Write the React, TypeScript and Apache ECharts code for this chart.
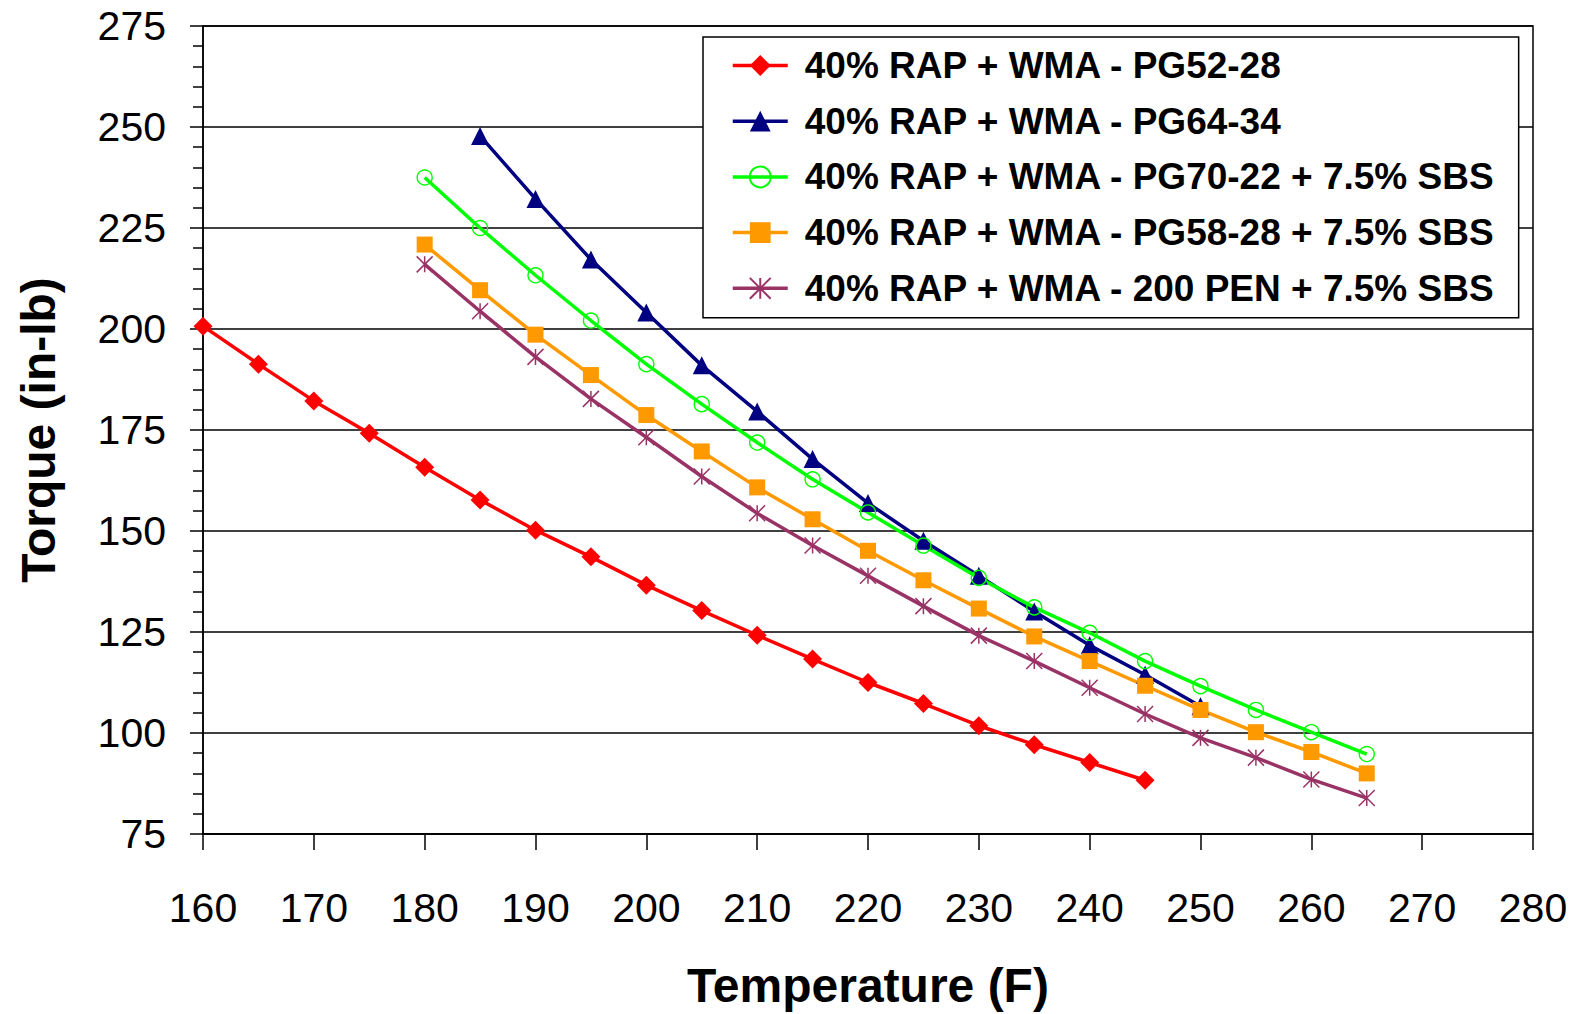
import React, { useEffect, useRef } from "react";
import * as echarts from "echarts";

const xTicks = [160, 170, 180, 190, 200, 210, 220, 230, 240, 250, 260, 270, 280];
const yTicks = [75, 100, 125, 150, 175, 200, 225, 250, 275];

const seriesNames = [
  "40% RAP + WMA - PG52-28",
  "40% RAP + WMA - PG64-34",
  "40% RAP + WMA - PG70-22 + 7.5% SBS",
  "40% RAP + WMA - PG58-28 + 7.5% SBS",
  "40% RAP + WMA - 200 PEN + 7.5% SBS",
];

const tempPG5228 = [160, 165, 170, 175, 180, 185, 190, 195, 200, 205, 210, 215, 220, 225, 230, 235, 240, 245];
const torquePG5228 = [200.7, 191.3, 182.2, 174.2, 165.8, 157.7, 150.2, 143.6, 136.6, 130.3, 124.2, 118.3, 112.5, 107.3, 101.8, 97.1, 92.7, 88.3];

const tempPG6434 = [185, 190, 195, 200, 205, 210, 215, 220, 225, 230, 235, 240, 245, 250];
const torquePG6434 = [247.8, 232.2, 217.2, 204.1, 191.0, 179.6, 167.8, 156.9, 147.6, 138.9, 130.1, 121.7, 114.4, 106.6];

const tempPG7022 = [180, 185, 190, 195, 200, 205, 210, 215, 220, 225, 230, 235, 240, 245, 250, 255, 260, 265];
const torquePG7022 = [237.5, 225.0, 213.3, 202.1, 191.3, 181.4, 171.9, 162.8, 154.6, 146.4, 138.4, 131.1, 124.8, 117.8, 111.6, 105.7, 100.2, 94.8];

const tempPG5828 = [180, 185, 190, 195, 200, 205, 210, 215, 220, 225, 230, 235, 240, 245, 250, 255, 260, 265];
const torquePG5828 = [220.9, 209.6, 198.6, 188.6, 178.7, 169.7, 160.8, 152.9, 145.1, 137.8, 130.8, 123.9, 117.8, 111.7, 105.7, 100.2, 95.3, 90.0];

const temp200PEN = [180, 185, 190, 195, 200, 205, 210, 215, 220, 225, 230, 235, 240, 245, 250, 255, 260, 265];
const torque200PEN = [216.0, 204.4, 193.1, 182.7, 173.2, 163.5, 154.4, 146.4, 138.9, 131.4, 124.1, 117.8, 111.2, 104.7, 98.8, 93.9, 88.5, 83.9];

const pairs = (xs: number[], ys: number[]) => xs.map((x, i) => [x, ys[i]]);

const FONT = "'Liberation Sans', Arial, sans-serif";

export default function App() {
  const ref = useRef<HTMLDivElement>(null);

  useEffect(() => {
    if (!ref.current) return;
    const chart = echarts.init(ref.current, undefined, { renderer: "svg" });

    const lineW = 3.5;
    const mk = (
      name: string,
      data: number[][],
      color: string,
      symbol: string,
      symbolSize: number,
      itemStyle: any
    ) => ({
      name,
      type: "line",
      data,
      symbol,
      symbolSize,
      showAllSymbol: true,
      lineStyle: { color, width: lineW },
      itemStyle,
      emphasis: { disabled: true },
      z: 3,
    });

    chart.setOption({
      animation: false,
      backgroundColor: "#fff",
      grid: {
        left: 203,
        right: 41,
        top: 26,
        bottom: 174,
        show: true,
        borderColor: "#000",
        borderWidth: 1.5,
        backgroundColor: "transparent",
      },
      legend: {
        show: true,
        orient: "vertical",
        left: 703,
        top: 37,
        selectedMode: false,
        backgroundColor: "#fff",
        borderColor: "#000",
        borderWidth: 1.5,
        padding: [10, 23, 11, 28],
        itemGap: 18.7,
        itemWidth: 55,
        itemHeight: 26,
        lineStyle: { width: 3.5 },
        textStyle: {
          fontFamily: FONT,
          fontSize: 37,
          fontWeight: "bold",
          color: "#000",
          lineHeight: 36,
          padding: [0, 0, 0, 12],
        },
        data: seriesNames,
      },
      xAxis: {
        type: "value",
        min: 160,
        max: 280,
        interval: 10,
        name: "Temperature (F)",
        nameLocation: "middle",
        nameGap: 127,
        nameTextStyle: { fontFamily: FONT, fontSize: 48, fontWeight: "bold", color: "#000" },
        axisLine: { show: true, onZero: false, lineStyle: { color: "#000", width: 1.5 } },
        axisTick: { show: true, inside: false, length: 16, lineStyle: { color: "#000", width: 1.5 } },
        axisLabel: {
          fontFamily: FONT,
          fontSize: 41,
          color: "#000",
          margin: 53,
          formatter: (v: number) => (xTicks.includes(v) ? String(v) : ""),
        },
        splitLine: { show: false },
      },
      yAxis: {
        type: "value",
        min: 75,
        max: 275,
        interval: 25,
        name: "Torque (in-lb)",
        nameLocation: "middle",
        nameRotate: 90,
        nameGap: 141,
        nameTextStyle: { fontFamily: FONT, fontSize: 48, fontWeight: "bold", color: "#000" },
        axisLine: { show: true, onZero: false, lineStyle: { color: "#000", width: 1.5 } },
        axisTick: { show: true, inside: false, length: 13, lineStyle: { color: "#000", width: 1.5 } },
        minorTick: { show: true, splitNumber: 5, length: 10, lineStyle: { color: "#000", width: 1.5 } },
        axisLabel: {
          fontFamily: FONT,
          fontSize: 41,
          color: "#000",
          margin: 37,
          formatter: (v: number) => (yTicks.includes(v) ? String(v) : ""),
        },
        splitLine: { show: true, lineStyle: { color: "#000", width: 1.5 } },
      },
      series: [
        mk(seriesNames[0], pairs(tempPG5228, torquePG5228), "#FF0000", "diamond", 19, {
          color: "#FF0000",
          borderWidth: 0,
        }),
        mk(seriesNames[1], pairs(tempPG6434, torquePG6434), "#000080", "triangle", 18, {
          color: "#000080",
          borderWidth: 0,
        }),
        mk(seriesNames[2], pairs(tempPG7022, torquePG7022), "#00FF00", "circle", 15, {
          color: "rgba(255,255,255,0)",
          borderColor: "#00FF00",
          borderWidth: 1.4,
        }),
        mk(seriesNames[3], pairs(tempPG5828, torquePG5828), "#FF9900", "rect", 16, {
          color: "#FF9900",
          borderWidth: 0,
        }),
        mk(
          seriesNames[4],
          pairs(temp200PEN, torque200PEN),
          "#993366",
          "path://M0,0 L10,10 M0,10 L10,0 M5,0 L5,10",
          16,
          { color: "#993366", borderColor: "#993366", borderWidth: 1.5 }
        ),
      ],
    });

    return () => chart.dispose();
  }, []);

  return (
    <div
      ref={ref}
      style={{ position: "fixed", left: 0, top: 0, width: 1574, height: 1014, background: "#fff" }}
    />
  );
}
